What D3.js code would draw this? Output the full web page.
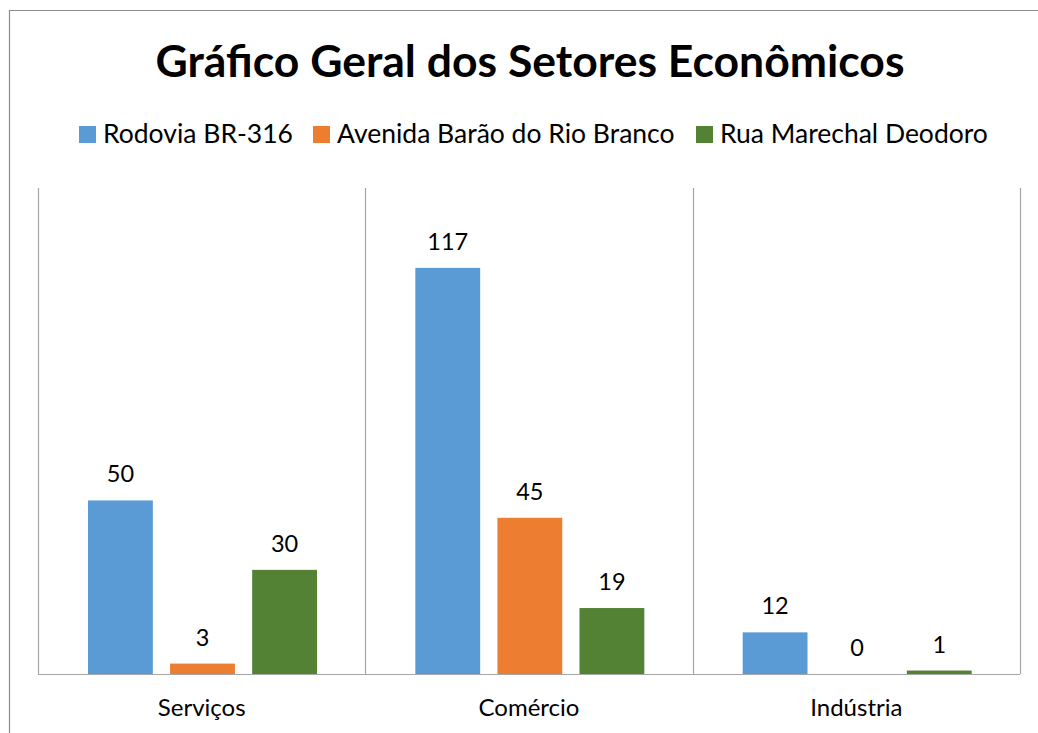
<!DOCTYPE html>
<html>
<head>
<meta charset="utf-8">
<script src="https://cdn.jsdelivr.net/npm/d3@7"></script>
<style>
  body { margin: 0; background: #fff; }
  svg text { font-family: Lato, "Open Sans", sans-serif; fill: #000; }
</style>
</head>
<body>
<div id="chart"></div>
<script>
// categories and series
const categories = ["Serviços", "Comércio", "Indústria"];
const seriesNames = ["Rodovia BR-316", "Avenida Barão do Rio Branco", "Rua Marechal Deodoro"];
const seriesColors = ["#5b9bd5", "#ed7d31", "#548235"];
const rodovia = [50, 117, 12];
const avenida = [3, 45, 0];
const marechal = [30, 19, 1];

const W = 1038, H = 733;
const plot = { left: 38, right: 1020, top: 188, bottom: 674 };

const svg = d3.select("#chart")
    .append("svg")
    .attr("width", W)
    .attr("height", H);

// outer chart border (only top and left visible)
svg.append("path")
    .attr("d", "M9.5," + H + "V10.5H" + W)
    .attr("fill", "none")
    .attr("stroke", "#8c8c8c")
    .attr("stroke-width", 1.2);

// title
svg.append("text")
    .attr("x", 530)
    .attr("y", 77)
    .attr("text-anchor", "middle")
    .style("font-size", "44.5px")
    .style("font-weight", "bold")
    .text("Gráfico Geral dos Setores Econômicos");

// legend
const legendX = [79, 313, 696];
seriesNames.forEach(function (name, i) {
    svg.append("rect")
        .attr("x", legendX[i]).attr("y", 126)
        .attr("width", 17).attr("height", 17)
        .attr("fill", seriesColors[i]);
    svg.append("text")
        .attr("x", legendX[i] + 24).attr("y", 143)
        .style("font-size", "26.5px")
        .text(name);
});

// scales
const x0 = d3.scaleBand()
    .domain(categories)
    .range([plot.left, plot.right])
    .paddingInner(0)
    .paddingOuter(0);

const x1 = d3.scaleBand()
    .domain(d3.range(seriesNames.length))
    .range([50, 279])
    .paddingInner(0.21);

const y = d3.scaleLinear()
    .domain([0, 140])
    .range([plot.bottom, plot.top]);

// category separators
const seps = categories.map(function (c) { return x0(c); }).concat([plot.right]);
svg.selectAll("line.sep")
    .data(seps)
    .enter()
    .append("line")
    .attr("class", "sep")
    .attr("x1", function (d) { return Math.round(d) + 0.5; })
    .attr("x2", function (d) { return Math.round(d) + 0.5; })
    .attr("y1", plot.top)
    .attr("y2", plot.bottom)
    .attr("stroke", "#a6a6a6")
    .attr("stroke-width", 1.2);

// bars
const seriesValues = [rodovia, avenida, marechal];
const data = [];
categories.forEach(function (c, ci) {
    seriesValues.forEach(function (vals, si) {
        data.push({ cat: c, s: si, v: vals[ci] });
    });
});

const g = svg.append("g");
g.selectAll("rect.bar")
    .data(data)
    .enter()
    .append("rect")
    .attr("class", "bar")
    .attr("x", function (d) { return x0(d.cat) + x1(d.s); })
    .attr("y", function (d) { return y(d.v); })
    .attr("width", x1.bandwidth())
    .attr("height", function (d) { return plot.bottom - y(d.v); })
    .attr("fill", function (d) { return seriesColors[d.s]; });

// data labels
g.selectAll("text.lbl")
    .data(data)
    .enter()
    .append("text")
    .attr("class", "lbl")
    .attr("x", function (d) { return x0(d.cat) + x1(d.s) + x1.bandwidth() / 2; })
    .attr("y", function (d) { return y(d.v) - 18; })
    .attr("text-anchor", "middle")
    .style("font-size", "23.5px")
    .text(function (d) { return d.v; });

// x axis baseline
svg.append("line")
    .attr("x1", plot.left).attr("x2", plot.right)
    .attr("y1", plot.bottom + 0.5).attr("y2", plot.bottom + 0.5)
    .attr("stroke", "#a6a6a6")
    .attr("stroke-width", 1.2);

// category labels
svg.selectAll("text.cat")
    .data(categories)
    .enter()
    .append("text")
    .attr("class", "cat")
    .attr("x", function (d) { return x0(d) + x0.bandwidth() / 2; })
    .attr("y", 716)
    .attr("text-anchor", "middle")
    .style("font-size", "24px")
    .text(function (d) { return d; });
</script>
</body>
</html>
